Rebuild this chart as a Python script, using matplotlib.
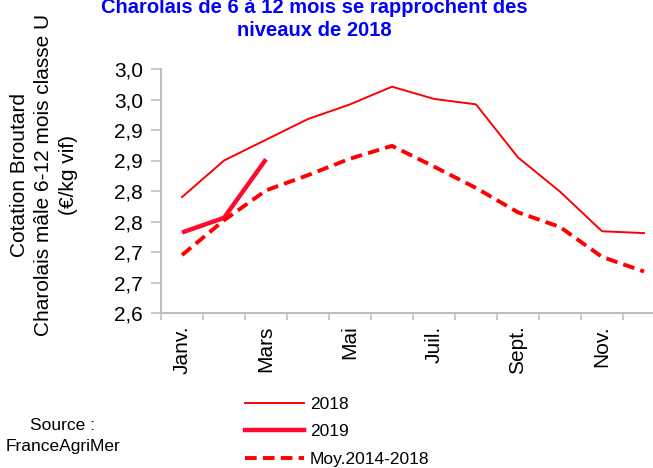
import matplotlib
matplotlib.use("Agg")
import matplotlib.pyplot as plt
from matplotlib.lines import Line2D
from matplotlib.ticker import FuncFormatter
import math
import numpy as np

plt.rcParams['font.family'] = ['Liberation Sans', 'DejaVu Sans']

months = ['Janv.', 'Févr.', 'Mars', 'Avr.', 'Mai', 'Juin',
          'Juil.', 'Août', 'Sept.', 'Oct.', 'Nov.', 'Déc.']
v2018 = [2.790, 2.850, 2.884, 2.918, 2.942, 2.971,
         2.951, 2.942, 2.855, 2.799, 2.734, 2.731]
v2019 = [2.732, 2.756, 2.852]
moy = [2.695, 2.752, 2.801, 2.826, 2.853, 2.874,
       2.840, 2.805, 2.765, 2.741, 2.692, 2.668]

red = '#FF0000'
red19 = '#FF0A2F'
grey = '#BFBFBF'

fig = plt.figure(figsize=(6.53, 4.68), dpi=100)
ax = fig.add_axes([161 / 653, 1 - 313 / 468, 504 / 653, 244 / 468])

x = np.arange(len(months))
ax.plot(x, v2018, color=red, lw=1.4, label='2018')
ax.plot(x[:len(v2019)], v2019, color=red19, lw=3.2, label='2019', solid_capstyle='butt')
ax.plot(x, moy, color=red, lw=2.8, ls=(0, (3, 1.6)), label='Moy.2014-2018')

ax.set_xlim(-0.5, 11.5)
ax.set_ylim(2.6, 3.0)
ax.set_yticks(np.linspace(2.6, 3.0, 9))


def fr_fmt(v, pos):
    r = math.floor(v * 10 + 0.5 + 1e-6) / 10
    return f"{r:.1f}".replace('.', ',')


ax.yaxis.set_major_formatter(FuncFormatter(fr_fmt))

ax.set_xticks(np.arange(-0.5, 12, 1))
ax.set_xticklabels([''] * 13)
ax.set_xticks(x[::2], minor=True)
ax.set_xticklabels(months[::2], minor=True, rotation=90, fontsize=15)
ax.tick_params(axis='x', which='minor', length=0, pad=9)
ax.tick_params(axis='x', which='major', length=5, width=1.2, color=grey)
ax.tick_params(axis='y', length=7, width=1.2, color=grey, labelsize=15, pad=6)

for s in ['top', 'right']:
    ax.spines[s].set_visible(False)
for s in ['left', 'bottom']:
    ax.spines[s].set_color(grey)
    ax.spines[s].set_linewidth(1.5)

fig.text(44 / 653, 1 - 175 / 468,
         'Cotation Broutard\nCharolais mâle 6-12 mois classe U\n(€/kg vif)',
         rotation=90, ha='center', va='center', multialignment='center',
         fontsize=15, linespacing=1.35)

fig.text(314 / 653, 1 - 19 / 468,
         'Charolais de 6 à 12 mois se rapprochent des\nniveaux de 2018',
         ha='center', va='center', multialignment='center',
         fontsize=14.5, fontweight='bold', color='#0000FF', linespacing=1.25)

fig.text(63 / 653, 1 - 436 / 468, 'Source :\nFranceAgriMer',
         ha='center', va='center', multialignment='center',
         fontsize=12.5, linespacing=1.5)

handles = [Line2D([], [], color=red, lw=1.4),
           Line2D([], [], color=red19, lw=3.2),
           Line2D([], [], color=red, lw=2.8, ls=(0, (3, 1.6)))]
fig.legend(handles, ['2018', '2019', 'Moy.2014-2018'],
           loc='upper left', bbox_to_anchor=(245 / 653, 1 - 397 / 468),
           frameon=False, fontsize=12.5, handlelength=3.4, handletextpad=0.35,
           labelspacing=0.7, borderpad=0, borderaxespad=0)

fig.savefig('out.png', dpi=100)
